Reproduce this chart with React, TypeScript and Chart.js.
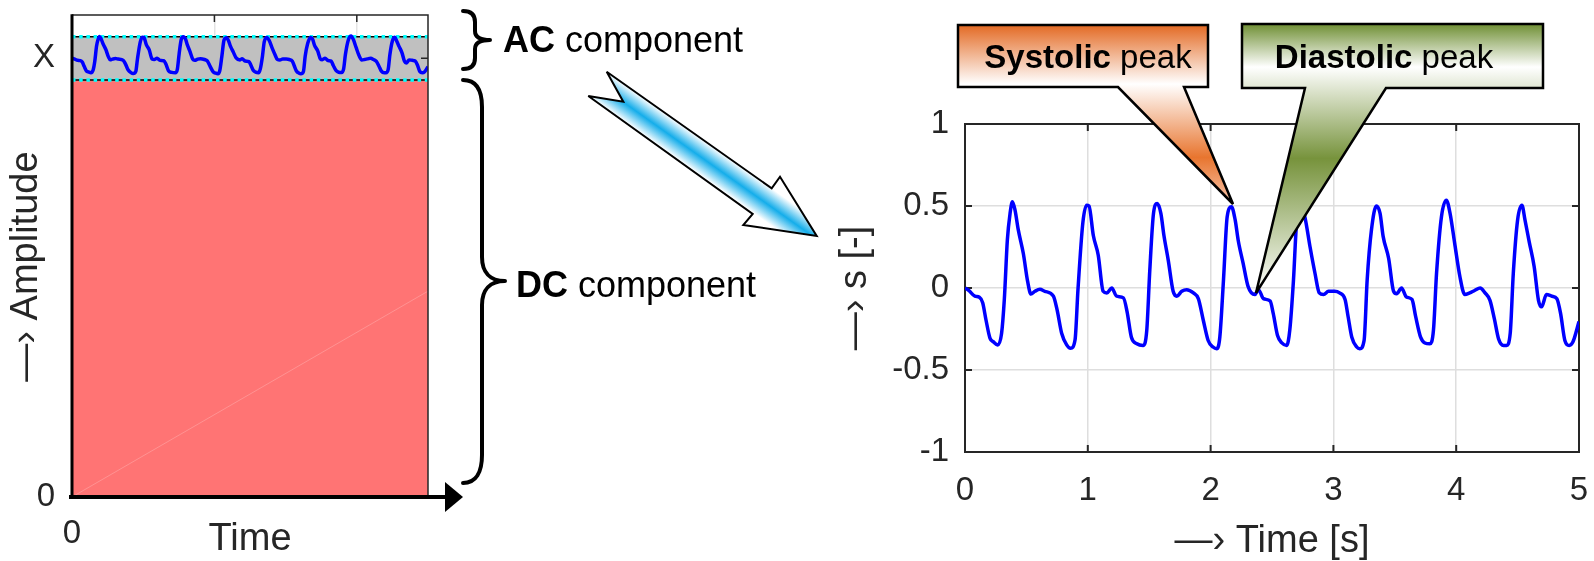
import React, { useEffect, useRef } from 'react';
import { Chart, registerables } from 'chart.js';

Chart.register(...registerables);

// ---------------- data ----------------
const TIME_S = [
  0, 0.03, 0.08, 0.117, 0.144, 0.171, 0.204, 0.23, 0.266, 0.298, 0.32, 0.345, 0.367, 0.386, 0.407, 0.434, 0.475, 0.51, 0.537, 0.57, 0.61, 0.65, 0.72, 0.75, 0.787, 0.828, 0.86, 0.896,
  0.92, 0.96, 0.99, 1.01, 1.045, 1.085, 1.125, 1.155, 1.195, 1.235, 1.29, 1.32, 1.355, 1.4, 1.45, 1.48,
  1.505, 1.535, 1.565, 1.595, 1.62, 1.655, 1.695, 1.725, 1.765, 1.805, 1.86, 1.9, 1.94, 1.98, 2.02, 2.05, 2.075,
  2.105, 2.135, 2.17, 2.2, 2.225, 2.265, 2.305, 2.36, 2.39, 2.43, 2.485, 2.51, 2.545, 2.58, 2.62, 2.645,
  2.675, 2.7, 2.74, 2.77, 2.81, 2.85, 2.885, 2.92, 2.96, 3.01, 3.05, 3.095, 3.12, 3.15, 3.19, 3.215, 3.25,
  3.275, 3.31, 3.35, 3.38, 3.405, 3.45, 3.49, 3.515, 3.555, 3.595, 3.64, 3.67, 3.71, 3.745, 3.785, 3.815,
  3.84, 3.88, 3.92, 3.95, 3.99, 4.03, 4.07, 4.11, 4.15, 4.195, 4.235, 4.275, 4.31, 4.345, 4.385, 4.41, 4.44,
  4.465, 4.5, 4.535, 4.56, 4.595, 4.635, 4.67, 4.695, 4.735, 4.78, 4.82, 4.85, 4.885, 4.92, 4.95, 5.0,
];

const SIGNAL = [
  0.0, -0.015, -0.05, -0.057, -0.09, -0.195, -0.307, -0.327, -0.347, -0.276, -0.073, 0.293, 0.455, 0.526, 0.476, 0.354, 0.21, 0.04, -0.037, -0.02, -0.008, -0.02, -0.05, -0.134, -0.276, -0.347, -0.368, -0.317,
  -0.01, 0.4, 0.505, 0.5, 0.32, 0.2, -0.02, -0.03, 0.0, -0.05, -0.06, -0.145, -0.3, -0.34, -0.35, -0.26,
  0.11, 0.455, 0.515, 0.455, 0.32, 0.17, -0.02, -0.05, -0.02, -0.01, -0.03, -0.065, -0.195, -0.32, -0.36, -0.37, -0.3,
  0.05, 0.435, 0.495, 0.415, 0.29, 0.15, 0.01, -0.04, -0.01, -0.065, -0.08, -0.155, -0.29, -0.335, -0.35, -0.255,
  0.05, 0.395, 0.5, 0.425, 0.25, 0.09, -0.03, -0.04, -0.02, -0.02, -0.03, -0.07, -0.175, -0.3, -0.36, -0.37, -0.32,
  0.05, 0.355, 0.5, 0.455, 0.315, 0.18, -0.02, -0.035, 0.0, -0.055, -0.07, -0.175, -0.3, -0.335, -0.34, -0.255,
  0.09, 0.435, 0.535, 0.455, 0.26, 0.07, -0.04, -0.03, -0.015, 0.0, -0.03, -0.075, -0.185, -0.31, -0.35, -0.35, -0.275,
  0.09, 0.415, 0.505, 0.415, 0.28, 0.13, -0.075, -0.115, -0.04, -0.05, -0.065, -0.155, -0.32, -0.35, -0.33, -0.205,
];

// right plot ticks
const RIGHT_X_TICKS = [0, 1, 2, 3, 4, 5];
const RIGHT_X_TICK_LABELS = ['0', '1', '2', '3', '4', '5'];
const RIGHT_Y_TICKS = [-1, -0.5, 0, 0.5, 1];
const RIGHT_Y_TICK_LABELS = ['-1', '-0.5', '0', '0.5', '1'];

// left plot (AC on top of DC)
const LEFT_Y_RANGE = [-10.55, 1.04];
const LEFT_X_TICKS = [0, 2, 4];
const LEFT_X_TICK_LABELS = ['0', '', ''];
const LEFT_Y_TICKS = [-10.55, 0];
const LEFT_Y_TICK_LABELS = ['0', 'X'];
const AC_BAND_TIMES = [0, 5];
const AC_BAND_UPPER = [0.52, 0.52];
const AC_BAND_LOWER = [-0.52, -0.52];
const DC_SEAM_TIMES = [0, 5];
const DC_SEAM_VALUES = [-10.55, -5.6];

// ---------------- styles ----------------
const FONT = '"Liberation Sans", Arial, Helvetica, sans-serif';
const AXIS_COLOR = '#262626';

const toXY = (xs: number[], ys: number[]) => xs.map((x, i) => ({ x, y: ys[i] }));

function line(ctx: CanvasRenderingContext2D, x1: number, y1: number, x2: number, y2: number) {
  ctx.beginPath();
  ctx.moveTo(x1, y1);
  ctx.lineTo(x2, y2);
  ctx.stroke();
}

const zeroPad = (s: any) => {
  s.paddingTop = 0;
  s.paddingBottom = 0;
  s.paddingLeft = 0;
  s.paddingRight = 0;
};

const rightFrame = {
  id: 'rightFrame',
  beforeDatasetsDraw(chart: any) {
    const { ctx, chartArea: a, scales } = chart;
    const x = scales.x;
    const y = scales.y;
    ctx.save();
    ctx.strokeStyle = AXIS_COLOR;
    ctx.lineWidth = 2;
    ctx.strokeRect(a.left, a.top, a.right - a.left, a.bottom - a.top);
    const L = 7;
    RIGHT_X_TICKS.forEach((v) => {
      const px = x.getPixelForValue(v);
      line(ctx, px, a.bottom, px, a.bottom - L);
      line(ctx, px, a.top, px, a.top + L);
    });
    RIGHT_Y_TICKS.forEach((v) => {
      const py = y.getPixelForValue(v);
      line(ctx, a.left, py, a.left + L, py);
      line(ctx, a.right, py, a.right - L, py);
    });
    ctx.restore();
  },
};

const leftFrame = {
  id: 'leftFrame',
  afterDatasetsDraw(chart: any) {
    const { ctx, chartArea: a, scales } = chart;
    const x = scales.x;
    const y = scales.y;
    ctx.save();
    ctx.strokeStyle = AXIS_COLOR;
    ctx.lineWidth = 1.5;
    ctx.beginPath();
    ctx.moveTo(a.left, a.top);
    ctx.lineTo(a.right, a.top);
    ctx.lineTo(a.right, a.bottom);
    ctx.stroke();
    const L = 7;
    LEFT_X_TICKS.forEach((v) => {
      if (v === LEFT_X_TICKS[0]) return;
      const px = x.getPixelForValue(v);
      line(ctx, px, a.top, px, a.top + L);
    });
    LEFT_Y_TICKS.forEach((v) => {
      if (v === LEFT_Y_TICKS[0]) return;
      const py = y.getPixelForValue(v);
      line(ctx, a.right, py, a.right - L, py);
    });
    // bold left axis
    ctx.strokeStyle = '#000';
    ctx.lineWidth = 3;
    line(ctx, a.left, a.top - 0.75, a.left, a.bottom);
    // bold time axis with arrow
    ctx.lineWidth = 4;
    line(ctx, a.left - 3, a.bottom, a.right + 20, a.bottom);
    ctx.fillStyle = '#000';
    ctx.beginPath();
    ctx.moveTo(a.right + 17, a.bottom - 15);
    ctx.lineTo(a.right + 35, a.bottom);
    ctx.lineTo(a.right + 17, a.bottom + 15);
    ctx.closePath();
    ctx.fill();
    ctx.restore();
  },
};

function tickFont(size: number) {
  return { family: FONT, size, lineHeight: 1 };
}
const TITLE_FONT = { family: FONT, size: 38, lineHeight: 1 };

export default function App() {
  const leftRef = useRef<HTMLCanvasElement>(null);
  const rightRef = useRef<HTMLCanvasElement>(null);

  useEffect(() => {
    const signal = toXY(TIME_S, SIGNAL);

    const right = new Chart(rightRef.current as HTMLCanvasElement, {
      type: 'line',
      data: {
        datasets: [
          {
            data: signal,
            borderColor: '#0000ff',
            borderWidth: 3.5,
            pointRadius: 0,
            cubicInterpolationMode: 'monotone',
            fill: false,
          },
        ],
      },
      options: {
        animation: false,
        responsive: false,
        devicePixelRatio: 1,
        events: [],
        layout: { padding: { left: 0, top: 24, right: 15, bottom: 0 } },
        plugins: { legend: { display: false }, tooltip: { enabled: false } },
        scales: {
          x: {
            type: 'linear',
            min: 0,
            max: 5,
            afterBuildTicks: (s: any) => {
              s.ticks = RIGHT_X_TICKS.map((value) => ({ value }));
            },
            ticks: {
              callback: (_v: any, i: number) => RIGHT_X_TICK_LABELS[i],
              font: tickFont(33),
              color: AXIS_COLOR,
              padding: 22,
              maxRotation: 0,
              autoSkip: false,
            },
            grid: { color: '#dedede', lineWidth: 1.5, drawTicks: false },
            border: { display: false },
            title: {
              display: true,
              text: '—› Time [s]',
              font: TITLE_FONT,
              color: AXIS_COLOR,
              padding: { top: 0, bottom: 0 },
            },
            afterFit: (s: any) => {
              s.height = 109;
              zeroPad(s);
            },
          },
          y: {
            type: 'linear',
            min: -1,
            max: 1,
            afterBuildTicks: (s: any) => {
              s.ticks = RIGHT_Y_TICKS.map((value) => ({ value }));
            },
            ticks: {
              callback: (_v: any, i: number) => RIGHT_Y_TICK_LABELS[i],
              font: tickFont(33),
              color: AXIS_COLOR,
              padding: 16,
              autoSkip: false,
            },
            grid: { color: '#dedede', lineWidth: 1.5, drawTicks: false },
            border: { display: false },
            title: {
              display: true,
              text: '—› s [-]',
              font: TITLE_FONT,
              color: AXIS_COLOR,
              padding: { top: 17, bottom: 0 },
            },
            afterFit: (s: any) => {
              s.width = 145;
              zeroPad(s);
            },
          },
        },
      } as any,
      plugins: [rightFrame],
    });

    const left = new Chart(leftRef.current as HTMLCanvasElement, {
      type: 'line',
      data: {
        datasets: [
          {
            data: signal,
            borderColor: '#0000ff',
            borderWidth: 3.5,
            pointRadius: 0,
            cubicInterpolationMode: 'monotone',
            fill: false,
            order: 0,
          },
          {
            data: toXY(AC_BAND_TIMES, AC_BAND_LOWER),
            borderWidth: 0,
            borderColor: 'rgba(0,0,0,0)',
            backgroundColor: '#ff7474',
            pointRadius: 0,
            fill: 'start',
            order: 6,
          },
          {
            data: toXY(AC_BAND_TIMES, AC_BAND_UPPER),
            borderWidth: 0,
            borderColor: 'rgba(0,0,0,0)',
            backgroundColor: '#c0c0c0',
            pointRadius: 0,
            fill: 1,
            order: 5,
          },
          {
            data: toXY(AC_BAND_TIMES, AC_BAND_LOWER),
            borderWidth: 1.5,
            borderColor: '#000',
            pointRadius: 0,
            fill: false,
            order: 3,
          },
          {
            data: toXY(AC_BAND_TIMES, AC_BAND_UPPER),
            borderWidth: 1.5,
            borderColor: '#000',
            pointRadius: 0,
            fill: false,
            order: 3,
          },
          {
            data: toXY(AC_BAND_TIMES, AC_BAND_LOWER),
            borderWidth: 3.5,
            borderColor: '#00ffff',
            borderDash: [3.5, 3.7],
            pointRadius: 0,
            fill: false,
            order: 2,
          },
          {
            data: toXY(AC_BAND_TIMES, AC_BAND_UPPER),
            borderWidth: 3.5,
            borderColor: '#00ffff',
            borderDash: [3.5, 3.7],
            pointRadius: 0,
            fill: false,
            order: 2,
          },
          {
            data: toXY(DC_SEAM_TIMES, DC_SEAM_VALUES),
            borderWidth: 1,
            borderColor: 'rgba(255,255,255,0.22)',
            pointRadius: 0,
            fill: false,
            order: 4,
          },
        ],
      },
      options: {
        animation: false,
        responsive: false,
        devicePixelRatio: 1,
        events: [],
        layout: { padding: { left: 0, top: 15, right: 52, bottom: 0 } },
        plugins: { legend: { display: false }, tooltip: { enabled: false } },
        scales: {
          x: {
            type: 'linear',
            min: 0,
            max: 5,
            afterBuildTicks: (s: any) => {
              s.ticks = LEFT_X_TICKS.map((value) => ({ value }));
            },
            ticks: {
              callback: (_v: any, i: number) => LEFT_X_TICK_LABELS[i],
              font: tickFont(33),
              color: AXIS_COLOR,
              padding: 20,
              maxRotation: 0,
              autoSkip: false,
            },
            grid: { color: '#e3e3e3', lineWidth: 1.5, drawTicks: false },
            border: { display: false },
            title: {
              display: true,
              text: 'Time',
              font: TITLE_FONT,
              color: AXIS_COLOR,
              padding: { top: 0, bottom: 2 },
            },
            afterFit: (s: any) => {
              s.height = 64;
              zeroPad(s);
            },
          },
          y: {
            type: 'linear',
            min: LEFT_Y_RANGE[0],
            max: LEFT_Y_RANGE[1],
            afterBuildTicks: (s: any) => {
              s.ticks = LEFT_Y_TICKS.map((value) => ({ value }));
            },
            ticks: {
              callback: (_v: any, i: number) => LEFT_Y_TICK_LABELS[i],
              font: tickFont(33),
              color: AXIS_COLOR,
              padding: 17,
              autoSkip: false,
            },
            grid: { display: false, drawTicks: false },
            border: { display: false },
            title: {
              display: true,
              text: '—› Amplitude\u00a0\u00a0',
              font: TITLE_FONT,
              color: AXIS_COLOR,
              padding: { top: 8, bottom: 0 },
            },
            afterFit: (s: any) => {
              s.width = 72;
              zeroPad(s);
            },
          },
        },
      } as any,
      plugins: [leftFrame],
    });

    return () => {
      right.destroy();
      left.destroy();
    };
  }, []);

  const textStyle = { fontFamily: FONT, fill: '#000' } as any;

  return (
    <div style={{ position: 'absolute', left: 0, top: 0, width: 1594, height: 561, overflow: 'hidden', background: '#fff' }}>
      <canvas ref={leftRef} width={480} height={561} style={{ position: 'absolute', left: 0, top: 0, width: 480, height: 561 }} />
      <canvas ref={rightRef} width={774} height={461} style={{ position: 'absolute', left: 820, top: 100, width: 774, height: 461 }} />
      <svg width={1594} height={561} style={{ position: 'absolute', left: 0, top: 0, pointerEvents: 'none' }}>
        <defs>
          <linearGradient id="arrowGrad" gradientUnits="userSpaceOnUse" x1="689.2" y1="130" x2="671.5" y2="155">
            <stop offset="0" stopColor="#ffffff" />
            <stop offset="0.5" stopColor="#14adea" />
            <stop offset="1" stopColor="#ffffff" />
          </linearGradient>
          <linearGradient id="sysGrad" gradientUnits="userSpaceOnUse" x1="0" y1="25" x2="0" y2="204">
            <stop offset="0" stopColor="#e36a24" />
            <stop offset="0.33" stopColor="#ffffff" />
            <stop offset="0.74" stopColor="#e8752f" />
            <stop offset="1" stopColor="#f6c4aa" />
          </linearGradient>
          <linearGradient id="diaGrad" gradientUnits="userSpaceOnUse" x1="0" y1="24" x2="0" y2="293">
            <stop offset="0" stopColor="#6f8f34" />
            <stop offset="0.16" stopColor="#ffffff" />
            <stop offset="0.5" stopColor="#77933c" />
            <stop offset="1" stopColor="#ffffff" />
          </linearGradient>
        </defs>

        {/* braces */}
        <path
          d="M463 11 C471 11, 475 15, 475 22 L475 31 C475 37, 480 40, 490 40 C480 40, 475 43, 475 49 L475 58 C475 65, 471 69, 463 69"
          fill="none" stroke="#000" strokeWidth={4} strokeLinecap="round" strokeLinejoin="round"
        />
        <path
          d="M463 80 C476 80, 482 90, 482 107 L482 257 C482 272, 490 281, 505 281 C490 281, 482 290, 482 305 L482 455 C482 472, 476 483, 463 483"
          fill="none" stroke="#000" strokeWidth={4} strokeLinecap="round" strokeLinejoin="round"
        />
        <text x={503} y={52} fontSize={36} style={textStyle}>
          <tspan fontWeight="bold">AC</tspan> component
        </text>
        <text x={516} y={297} fontSize={36} style={textStyle}>
          <tspan fontWeight="bold">DC</tspan> component
        </text>

        {/* arrow */}
        <path
          d="M606.7 71.7 L771.7 188.3 L780 176.7 L816.7 236 L743.3 225 L752.7 214 L588.3 96 L623.3 101.7 Z"
          fill="url(#arrowGrad)" stroke="#000" strokeWidth={2} strokeLinejoin="miter"
        />

        {/* callouts */}
        <path
          d="M958 25 L1208 25 L1208 87 L1184 87 L1233 204 L1118 87 L958 87 Z"
          fill="url(#sysGrad)" stroke="#000" strokeWidth={2.5} strokeLinejoin="miter"
        />
        <text x={1088} y={68} fontSize={33} textAnchor="middle" style={textStyle}>
          <tspan fontWeight="bold">Systolic</tspan> peak
        </text>
        <path
          d="M1242 24 L1543 24 L1543 88 L1386 88 L1256 293 L1305 88 L1242 88 Z"
          fill="url(#diaGrad)" stroke="#000" strokeWidth={2.5} strokeLinejoin="miter"
        />
        <text x={1384} y={68} fontSize={33} textAnchor="middle" style={textStyle}>
          <tspan fontWeight="bold">Diastolic</tspan> peak
        </text>
      </svg>
    </div>
  );
}
